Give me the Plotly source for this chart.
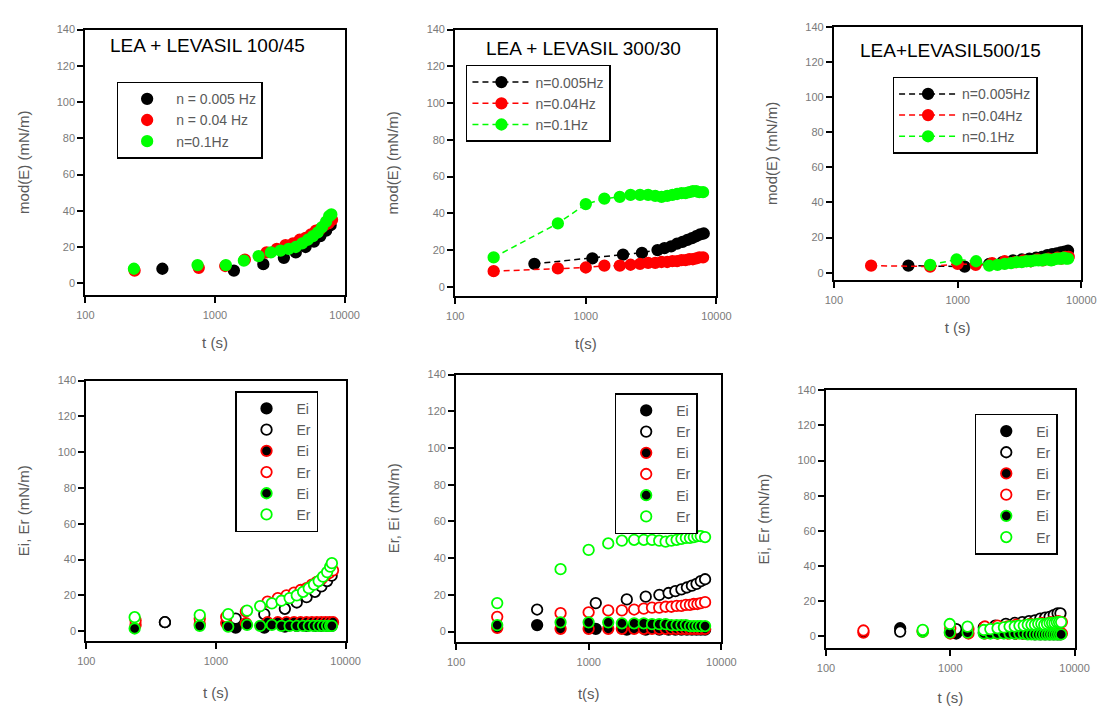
import plotly.graph_objects as go

W, H = 1115, 706

# ---------------- data ----------------
# Panel 1: LEA + LEVASIL 100/45, mod(E)
t1_black = [393, 1400, 2360, 3400, 4200, 5000, 5800, 6500, 7200, 7800]
y1_black = [8, 7, 10.5, 14, 17, 20, 23, 26, 29, 32]
t1_red = [240, 750, 1200, 1700, 2500, 3000, 3500, 4000, 4500, 5000, 5500, 6000, 6500, 7000, 7500, 8000]
y1_red = [7, 8.5, 9.5, 13, 17, 19, 21, 22, 24, 25, 27, 29, 30, 32, 33, 35]
t1_green = [237, 734, 1214, 1670, 2170, 2700, 3200, 3700, 4200, 4700, 5200, 5700, 6200, 6700, 7200, 7600, 7900]
y1_green = [8, 10, 10, 12.5, 15, 17, 18, 19, 20, 22, 24, 26, 28, 31, 34, 37, 38]

# Panel 2: LEA + LEVASIL 300/30, mod(E)
t2_black = [404, 1122, 1927, 2690, 3540, 4000, 4500, 5000, 5500, 6000, 6500, 7000, 7500, 8000]
y2_black = [12.5, 15.5, 17.5, 18.5, 20, 21, 22, 23.5, 24.5, 25.5, 26.5, 27.5, 28.5, 29]
t2_red = [197, 611, 1000, 1387, 1820, 2200, 2600, 3000, 3400, 3800, 4200, 4600, 5000, 5400, 5800, 6200, 6600, 7000, 7400, 7900]
y2_red = [8.5, 10, 10.5, 11.5, 11.5, 12, 12.5, 13, 13, 13.5, 13.5, 14, 14, 14.5, 14.5, 15, 15, 15.5, 16, 16]
t2_green = [197, 611, 1000, 1387, 1820, 2200, 2600, 3000, 3400, 3800, 4200, 4600, 5000, 5400, 5800, 6200, 6600, 7000, 7400, 7900]
y2_green = [16, 34.5, 45, 48, 49, 50, 50, 50, 49.5, 49, 49.5, 50, 50.5, 51, 51, 51.5, 52, 52, 51.5, 51.5]

# Panel 3: LEA+LEVASIL500/15, mod(E)
t3_black = [400, 1140, 1800, 2300, 2800, 3300, 3800, 4300, 4800, 5300, 5800, 6300, 6800, 7300, 7800]
y3_black = [4, 3.5, 5, 6, 7, 7.5, 8, 8.5, 9, 10, 10.5, 11, 11.5, 12, 12.5]
t3_red = [200, 600, 1000, 1400, 1900, 2400, 2900, 3400, 3900, 4400, 4900, 5400, 5900, 6400, 6900, 7400, 7900]
y3_red = [4, 3.5, 5, 4.5, 5.5, 6.5, 6, 7, 6.5, 7.5, 7, 8, 7.5, 8.5, 8, 9, 9]
t3_green = [600, 980, 1410, 1800, 2100, 2400, 2700, 3000, 3300, 3600, 3900, 4200, 4500, 4800, 5100, 5400, 5700, 6000, 6300, 6600, 6900, 7200, 7500, 7800]
y3_green = [4.5, 7.5, 6.5, 4, 4.5, 5, 5.5, 6, 6, 6.5, 6.5, 7, 7, 7, 7.5, 7.5, 7, 7.5, 8, 8, 8, 8.5, 8, 8]

# Panel 4: 100/45, Ei / Er
t4_black = [404, 1420, 2360, 3400, 4200, 5000, 5800, 6500, 7200, 7800]
ei4_black = [5, 2, 2, 2.5, 3, 3, 3, 3, 3, 3]
er4_black = [5, 7, 9.5, 12.5, 16, 19, 22, 25, 28, 31]
t4_red = [240, 750, 1200, 1700, 2500, 3000, 3500, 4000, 4500, 5000, 5500, 6000, 6500, 7000, 7500, 8000]
ei4_red = [3.5, 4, 4.5, 4.5, 5, 5, 5, 5, 5, 5, 5, 5, 5, 5, 5, 5]
er4_red = [6, 7, 8, 11, 16.5, 18.5, 20, 21.5, 23, 24, 26, 27.5, 29, 31, 32.5, 34]
t4_green = [236, 750, 1243, 1738, 2193, 2700, 3200, 3700, 4200, 4700, 5200, 5700, 6200, 6700, 7200, 7600, 7840]
ei4_green = [1.5, 3, 2.5, 3.5, 3, 3.5, 3, 3, 3, 3, 3, 3, 3, 3, 3, 3, 3]
er4_green = [7.8, 9, 9.5, 11.5, 14, 15.5, 17, 18.5, 20, 22, 24, 26, 28, 30.5, 33, 36, 38]

# Panel 5: 300/30, Ei / Er
t5_black = [408, 1130, 1936, 2690, 3410, 4000, 4500, 5000, 5500, 6000, 6500, 7000, 7540]
ei5_black = [3.5, 1.5, 1, 1, 1, 1, 1, 1, 1, 1, 1, 1, 1]
er5_black = [12, 15.5, 17.5, 19, 20, 21, 22, 23, 24, 25, 26, 27.5, 28.5]
t5_red = [204, 613, 998, 1403, 1778, 2200, 2600, 3000, 3400, 3800, 4200, 4600, 5000, 5400, 5800, 6200, 6600, 7000, 7540]
ei5_red = [2, 1.5, 1.5, 1.5, 1.5, 1.5, 1.5, 1.5, 1.5, 1.5, 1.5, 1.5, 1.5, 1.5, 1.5, 1.5, 1.5, 1.5, 1.5]
er5_red = [8, 10, 10.5, 11.5, 11.5, 12, 12.5, 13, 13, 13.5, 13.5, 14, 14, 14.5, 14.5, 15, 15, 15.5, 16]
t5_green = [204, 613, 998, 1403, 1778, 2200, 2600, 3000, 3400, 3800, 4200, 4600, 5000, 5400, 5800, 6200, 6600, 7000, 7540]
ei5_green = [3.5, 5, 5, 5, 4.5, 4.5, 4.5, 4, 4, 4, 3.5, 3.5, 3.5, 3.5, 3, 3, 3, 3, 3]
er5_green = [15.5, 34, 44.5, 48, 49.5, 50, 50, 50, 49.5, 49, 49.5, 50, 50.5, 51, 51, 51.5, 52, 52, 51.5]

# Panel 6: 500/15, Ei / Er
t6_black = [395, 1115, 1860, 2300, 2800, 3300, 3800, 4300, 4800, 5300, 5800, 6300, 6800, 7300, 7700]
ei6_black = [4.5, 1.5, 2, 2, 2, 1.5, 1.5, 1.5, 1, 1, 1, 1, 1, 1, 1]
er6_black = [2.6, 4, 5, 6, 7, 7.5, 8, 8.5, 9, 10, 10.5, 11, 12, 13, 13]
t6_red = [200, 600, 1000, 1400, 1900, 2400, 2900, 3400, 3900, 4400, 4900, 5400, 5900, 6400, 6900, 7400, 7900]
ei6_red = [2, 2.5, 1.5, 1.5, 1.5, 1.5, 1.5, 1.5, 1.5, 1.5, 1.5, 1.5, 1.5, 1.5, 1.5, 1.5, 1.5]
er6_red = [3.2, 3, 4.5, 4, 5.5, 6, 5.5, 6.5, 6, 7, 6.5, 7.5, 7, 8, 7.5, 8.5, 8]
t6_green = [600, 990, 1377, 1860, 2100, 2400, 2700, 3000, 3300, 3600, 3900, 4200, 4500, 4800, 5100, 5400, 5700, 6000, 6300, 6600, 6900, 7200, 7500, 7800]
ei6_green = [2.5, 2, 2, 1.5, 1.5, 1.5, 1.5, 1.5, 1.5, 1.5, 1.5, 1, 1, 1, 1, 1, 1, 1, 1, 1, 1, 1, 1, 1]
er6_green = [3.6, 6.9, 5.4, 3.5, 4, 4.5, 5, 5.5, 5.5, 6, 6, 6.5, 6.5, 6.5, 7, 7, 6.5, 7, 7.5, 7.5, 7.5, 8, 8, 8]

panel_titles = ["LEA + LEVASIL 100/45", "LEA + LEVASIL 300/30", "LEA+LEVASIL500/15"]
legend1_names = ["n = 0.005 Hz", "n = 0.04 Hz", "n=0.1Hz"]
legend23_names = ["n=0.005Hz", "n=0.04Hz", "n=0.1Hz"]
ytitles = ["mod(E) (mN/m)", "mod(E) (mN/m)", "mod(E) (mN/m)", "Ei, Er (mN/m)", "Er, Ei (mN/m)", "Ei, Er (mN/m)"]
xtitles = ["t (s)", "t(s)", "t (s)", "t (s)", "t(s)", "t (s)"]
xtick_vals = [100, 1000, 10000]
xtick_text = ["100", "1000", "10000"]
ytick_vals = [0, 20, 40, 60, 80, 100, 120, 140]

# ---------------- styling / layout ----------------
BLACK, RED, GREEN = "#000000", "#ff0000", "#00ff00"
FONT = "Liberation Sans, Arial, sans-serif"
TICK_COLOR = "#7a7a7a"
TITLE_COLOR = "#5a5a5a"

# plot boxes in pixels: (left, right, top, bottom), y-range bottom value
boxes = [
    (78, 343, 24, 294, -6.5),
    (456, 723, 24, 295, -5.0),
    (843, 1096, 21, 279, -4.3),
    (79, 344, 381, 646, -5.5),
    (457, 728, 375, 647, -5.7),
    (835, 1089, 391, 653, -6.7),
]
# legend boxes top-left in pixels
legend_pos = [(110, 77), (467, 60), (903, 72), (231, 392), (619, 394), (987, 415)]
legend_font = [14, 14, 14, 14, 14, 14]
legend_itemw = [48, 58, 58, 50, 50, 50]
title_pos = [(203, 40), (587, 43), (962, 45)]

fig = go.Figure()

def mk(panel, x, y, color, name, mode="markers", fill=None, dash=False):
    i = panel + 1
    sfx = "" if i == 1 else str(i)
    marker = dict(size=10.5, color=color if fill is None else fill,
                  line=dict(color=color, width=1.8), symbol="circle")
    tr = go.Scatter(x=x, y=y, mode=mode, name=name, marker=marker,
                    xaxis="x" + sfx, yaxis="y" + sfx,
                    legend="legend" + sfx)
    if "lines" in mode:
        tr.line = dict(color=color, width=1.5, dash="6px,4px" if dash else "solid")
    fig.add_trace(tr)

# panel 1 (markers only)
mk(0, t1_black, y1_black, BLACK, legend1_names[0])
mk(0, t1_red, y1_red, RED, legend1_names[1])
mk(0, t1_green, y1_green, GREEN, legend1_names[2])
# panel 2 (dashed lines with markers)
mk(1, t2_black, y2_black, BLACK, legend23_names[0], mode="lines+markers", dash=True)
mk(1, t2_red, y2_red, RED, legend23_names[1], mode="lines+markers", dash=True)
mk(1, t2_green, y2_green, GREEN, legend23_names[2], mode="lines+markers", dash=True)
# panel 3
mk(2, t3_black, y3_black, BLACK, legend23_names[0], mode="lines+markers", dash=True)
mk(2, t3_red, y3_red, RED, legend23_names[1], mode="lines+markers", dash=True)
mk(2, t3_green, y3_green, GREEN, legend23_names[2], mode="lines+markers", dash=True)

# panels 4-6: Ei filled (black fill, coloured edge), Er open
for p, (tb, eib, erb, tr_, eir, err, tg, eig, erg) in enumerate([
    (t4_black, ei4_black, er4_black, t4_red, ei4_red, er4_red, t4_green, ei4_green, er4_green),
    (t5_black, ei5_black, er5_black, t5_red, ei5_red, er5_red, t5_green, ei5_green, er5_green),
    (t6_black, ei6_black, er6_black, t6_red, ei6_red, er6_red, t6_green, ei6_green, er6_green),
]):
    panel = 3 + p
    mk(panel, tb, eib, BLACK, "Ei", fill=BLACK)
    mk(panel, tb, erb, BLACK, "Er", fill="white")
    mk(panel, tr_, eir, RED, "Ei", fill=BLACK)
    mk(panel, tr_, err, RED, "Er", fill="white")
    mk(panel, tg, eig, GREEN, "Ei", fill=BLACK)
    mk(panel, tg, erg, GREEN, "Er", fill="white")

layout = dict(
    width=W, height=H, margin=dict(l=0, r=0, t=0, b=0),
    paper_bgcolor="white", plot_bgcolor="white",
    font=dict(family=FONT, color=TITLE_COLOR),
    annotations=[],
)

for k, (l, r, t, b, ymin) in enumerate(boxes):
    sfx = "" if k == 0 else str(k + 1)
    xa = dict(
        domain=[l / W, r / W], anchor="y" + sfx, type="log", range=[2, 4],
        tickvals=xtick_vals, ticktext=xtick_text,
        ticks="outside", ticklen=6, tickwidth=1.5, tickcolor="black",
        showline=True, linecolor="black", linewidth=2, mirror=True,
        showgrid=False, zeroline=False,
        tickfont=dict(size=11, color=TICK_COLOR, family=FONT),
        ticklabelstandoff=3,
        title=dict(text=xtitles[k], font=dict(size=15, color=TITLE_COLOR, family=FONT),
                   standoff=17 if k < 3 else 21),
    )
    ya = dict(
        domain=[1 - b / H, 1 - t / H], anchor="x" + sfx, range=[ymin, 140],
        tickvals=ytick_vals,
        ticks="outside", ticklen=6, tickwidth=1.5, tickcolor="black",
        showline=True, linecolor="black", linewidth=2, mirror=True,
        showgrid=False, zeroline=False,
        tickfont=dict(size=11, color=TICK_COLOR, family=FONT),
        title=dict(text=ytitles[k], font=dict(size=15, color=TITLE_COLOR, family=FONT), standoff=24),
    )
    layout["xaxis" + sfx] = xa
    layout["yaxis" + sfx] = ya
    lx, ly = legend_pos[k]
    layout["legend" + ("" if k == 0 else str(k + 1))] = dict(
        x=lx / W, y=1 - ly / H, xanchor="left", yanchor="top",
        xref="paper", yref="paper",
        bgcolor="white", bordercolor="black", borderwidth=1.5,
        font=dict(size=legend_font[k], color=TITLE_COLOR, family=FONT),
        itemwidth=legend_itemw[k], tracegroupgap=0,
    )

for k, (tx, ty) in enumerate(title_pos):
    layout["annotations"].append(dict(
        text=panel_titles[k], x=tx / W, y=1 - ty / H, xref="paper", yref="paper",
        xanchor="center", yanchor="middle", showarrow=False,
        font=dict(size=19, color="black", family=FONT),
    ))

fig.update_layout(**layout)
fig.write_html("out.html")
